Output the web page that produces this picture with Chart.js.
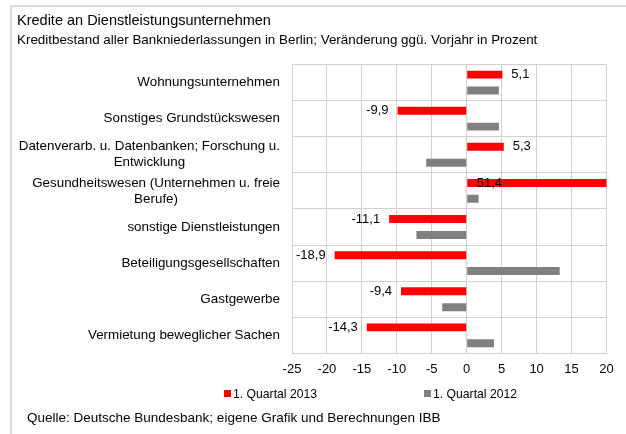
<!DOCTYPE html>
<html lang="de">
<head>
<meta charset="utf-8">
<title>Kredite an Dienstleistungsunternehmen</title>
<script src="https://cdn.jsdelivr.net/npm/chart.js@4.4.1/dist/chart.umd.min.js"></script>
<style>
  body { margin: 0; background: #fff; }
  #wrap { position: relative; width: 626px; height: 434px; font-family: 'Liberation Sans', Arial, sans-serif; color: #000; overflow: hidden; }
  #frame { position: absolute; left: 10px; top: 5px; right: 0; bottom: 0; border-top: 2px solid #d9d9d9; border-left: 2px solid #d9d9d9; }
  canvas { position: absolute; left: 0; top: 0; }
  .txt { position: absolute; white-space: nowrap; }
  #title { left: 17px; top: 12px; font-size: 14.5px; line-height: 16px; }
  #subtitle { left: 17px; top: 32px; font-size: 13.4px; line-height: 15px; }
  #source { left: 27px; top: 410px; font-size: 13.5px; line-height: 15px; }
  .leg { position: absolute; top: 387px; font-size: 12.2px; line-height: 14px; white-space: nowrap; }
  .leg i { position: absolute; left: -9px; top: 3px; width: 7px; height: 7px; }
</style>
</head>
<body>
<div id="wrap">
  <div id="frame"></div>
  <canvas id="kredite" width="626" height="434"></canvas>
  <div class="txt" id="title">Kredite an Dienstleistungsunternehmen</div>
  <div class="txt" id="subtitle">Kreditbestand aller Bankniederlassungen in Berlin; Veränderung ggü. Vorjahr in Prozent</div>
  <div id="legend"></div>
  <div class="txt" id="source">Quelle: Deutsche Bundesbank; eigene Grafik und Berechnungen IBB</div>
</div>
<script>
// Branchen (mehrzeilige Beschriftungen als Arrays)
const branchen = [
  'Wohnungsunternehmen',
  'Sonstiges Grundstückswesen',
  ['Datenverarb. u. Datenbanken; Forschung u.', 'Entwicklung'],
  ['Gesundheitswesen (Unternehmen u. freie', 'Berufe)'],
  'sonstige Dienstleistungen',
  'Beteiligungsgesellschaften',
  'Gastgewerbe',
  'Vermietung beweglicher Sachen'
];

// Veränderung ggü. Vorjahr in %
const quartal2013 = [5.1, -9.9, 5.3, 51.4, -11.1, -18.9, -9.4, -14.3];
const quartal2012 = [4.6, 4.6, -5.8, 1.7, -7.2, 13.3, -3.5, 3.9];

const xMin = -25, xMax = 20, xStep = 5;

const schrift = "'Liberation Sans', Arial, sans-serif";

// Branchenbeschriftung: rechtsbündig, Zeilen untereinander zentriert
const branchenLabels = {
  id: 'branchenLabels',
  afterDraw(chart) {
    const ctx = chart.ctx;
    const y = chart.scales.y;
    const right = chart.chartArea.left - 12;
    const lh = 16;
    ctx.save();
    ctx.font = '13.4px ' + schrift;
    ctx.fillStyle = '#000';
    ctx.textBaseline = 'middle';
    ctx.textAlign = 'center';
    branchen.forEach((lab, i) => {
      const lines = Array.isArray(lab) ? lab : [lab];
      const w = Math.max(...lines.map(l => ctx.measureText(l).width));
      const cx = right - w / 2;
      const cy = y.getPixelForValue(i);
      lines.forEach((l, k) => {
        ctx.fillText(l, cx, cy + (k - (lines.length - 1) / 2) * lh);
      });
    });
    ctx.restore();
  }
};

// Werte an den roten Balken (Komma als Dezimaltrenner)
const wertLabels = {
  id: 'wertLabels',
  afterDatasetsDraw(chart) {
    const ctx = chart.ctx;
    const x = chart.scales.x;
    const meta = chart.getDatasetMeta(0);
    ctx.save();
    ctx.font = '13px ' + schrift;
    ctx.fillStyle = '#000';
    ctx.textBaseline = 'middle';
    meta.data.forEach((bar, i) => {
      const v = quartal2013[i];
      const txt = v.toFixed(1).replace('.', ',');
      let px;
      if (v > x.max) {
        // Balken läuft über die Achse hinaus: Wert nahe der Nulllinie
        ctx.textAlign = 'left';
        px = x.getPixelForValue(0) + 10;
      } else if (v >= 0) {
        ctx.textAlign = 'left';
        px = bar.x + 9;
      } else {
        ctx.textAlign = 'right';
        px = bar.x - 9;
      }
      ctx.fillText(txt, px, bar.y);
    });
    ctx.restore();
  }
};

const chart = new Chart(document.getElementById('kredite'), {
  type: 'bar',
  data: {
    labels: branchen,
    datasets: [
      { label: '1. Quartal 2013', data: quartal2013, backgroundColor: '#ff0000' },
      { label: '1. Quartal 2012', data: quartal2012, backgroundColor: '#808080' }
    ]
  },
  options: {
    indexAxis: 'y',
    responsive: false,
    animation: false,
    categoryPercentage: 0.88,
    barPercentage: 0.5,
    layout: { padding: { left: 292, right: 19.5, top: 64.5, bottom: 49 } },
    plugins: {
      legend: { display: false },
      tooltip: { enabled: false }
    },
    scales: {
      x: {
        min: xMin,
        max: xMax,
        ticks: { stepSize: xStep, color: '#000', font: { family: schrift, size: 13 }, padding: 8 },
        grid: { color: '#d0d0d0', drawTicks: false },
        border: { color: '#d0d0d0' }
      },
      y: {
        ticks: { display: false },
        grid: { color: '#d0d0d0', drawTicks: false, offset: true },
        border: { color: '#d0d0d0' }
      }
    }
  },
  plugins: [branchenLabels, wertLabels]
});

// Legende aus den Datensätzen
const legendPos = [233, 433];
const legend = document.getElementById('legend');
chart.data.datasets.forEach((ds, i) => {
  const d = document.createElement('div');
  d.className = 'leg';
  d.style.left = legendPos[i] + 'px';
  d.innerHTML = '<i style="background:' + ds.backgroundColor + '"></i>' + ds.label;
  legend.appendChild(d);
});
</script>
</body>
</html>
